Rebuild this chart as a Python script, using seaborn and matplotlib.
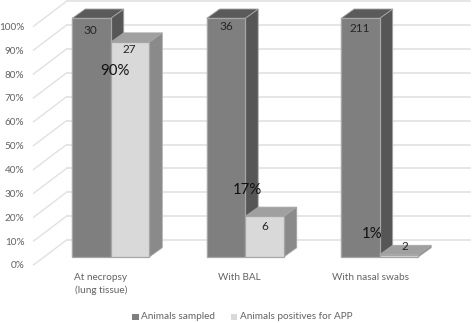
import pandas as pd
import matplotlib.pyplot as plt
from matplotlib.patches import Polygon, Rectangle
import seaborn as sns

groups = ["At necropsy\n(lung tissue)", "With BAL", "With nasal swabs"]
sampled_pct = [100, 100, 100]
positive_pct = [90, 17, 1]
sampled_n = [30, 36, 211]
positive_n = [27, 6, 2]
series = ["Animals sampled", "Animals positives for APP"]
ticks = list(range(0, 101, 10))

W, H = 472, 323
DX, DY = 13, 9.3  # bar depth in pixels

plt.rcParams['font.family'] = ['Lato', 'DejaVu Sans']
fig = plt.figure(figsize=(W / 100, H / 100), dpi=100)


def fx(x):
    return x / W


def fy(y):
    return 1 - y / H


# axes = the plane of the bar fronts
ax = fig.add_axes([fx(43.5), fy(257), (446.9 - 43.5) / W, (257 - 18.3) / H])
df = pd.DataFrame({
    "group": groups * 2,
    "series": [series[0]] * 3 + [series[1]] * 3,
    "pct": sampled_pct + positive_pct,
})
sns.barplot(data=df, x="group", y="pct", hue="series", ax=ax, width=0.573, legend=False,
            palette=["#7f7f7f", "#d9d9d9"], edgecolor="#a6a6a6", linewidth=0.9, saturation=1, zorder=3)
ax.set_xlim(-0.5, 2.5)
ax.set_ylim(0, 100)
ax.axis("off")

# back wall, side wall and y labels
step = (257 - 18.3) / 100
for t in ticks:
    back = 240 - step * t
    front = 265 - step * t
    fig.add_artist(plt.Line2D([fx(66.5), fx(470)], [fy(back), fy(back)], color="#e1e1e1", lw=1.2, zorder=0))
    fig.add_artist(plt.Line2D([fx(33.5), fx(66.5)], [fy(front), fy(back)], color="#e1e1e1", lw=1.0, zorder=0))
    fig.text(fx(24.5), fy(front + 1), f"{t}%", ha="right", va="center", fontsize=7.2, color="#636363")

# depth faces taken from the bars seaborn drew
side_cols = ["#565656", "#8a8a8a"]
top_cols = ["#5a5a5a", "#a0a0a0"]
bars = [p for p in ax.patches if isinstance(p, Rectangle) and p.get_height() > 0]
for i, p in enumerate(bars):
    s = 0 if i < 3 else 1
    x0, x1 = p.get_x(), p.get_x() + p.get_width()
    h = p.get_height()
    to_px = ax.transData.transform
    (a, b), (c, d) = to_px((x0, 0)), to_px((x1, h))
    inv = fig.transFigure.inverted().transform
    z = 1 if s == 0 else 5
    top = [(a, d), (c, d), (c + DX, d + DY), (a + DX, d + DY)]
    side = [(c, b), (c + DX, b + DY), (c + DX, d + DY), (c, d)]
    for pts, col in ((side, side_cols[s]), (top, top_cols[s])):
        fig.add_artist(Polygon(inv(pts), closed=True, transform=fig.transFigure, facecolor=col,
                               edgecolor="#a6a6a6", lw=0.6, zorder=z))
    # redraw the front above the side faces of the neighbour
    fig.add_artist(Polygon(inv([(a, b), (c, b), (c, d), (a, d)]), closed=True, transform=fig.transFigure,
                           facecolor=p.get_facecolor(), edgecolor="#a6a6a6", lw=0.9, zorder=z))

# value labels
n_pos = [(90, 30.5), (226, 27), (360, 28.5)]
m_pos = [(129.5, 49.5), (265, 227), (405, 246.5)]
pct_pos = [(115, 71), (247, 190), (372, 234)]
for v, (x, y) in zip(sampled_n, n_pos):
    fig.text(fx(x), fy(y), str(v), ha="center", va="center", fontsize=8.5, color="#262626", zorder=8)
for v, (x, y) in zip(positive_n, m_pos):
    fig.text(fx(x), fy(y), str(v), ha="center", va="center", fontsize=8.5, color="#262626", zorder=8)
for v, (x, y) in zip(positive_pct, pct_pos):
    fig.text(fx(x), fy(y), f"{v}%", ha="center", va="center", fontsize=10.8, color="#111111", zorder=8)

# category labels
for g, x in zip(groups, [101, 239, 370]):
    fig.text(fx(x), fy(273.5), g, ha="center", va="top", fontsize=7.2, color="#636363", linespacing=1.4)

# legend
for name, col, sq, tx in zip(series, ["#7f7f7f", "#d9d9d9"], [132.3, 231], [141, 240]):
    fig.add_artist(Rectangle((fx(sq), fy(320)), 6.5 / W, 6.5 / H, transform=fig.transFigure, facecolor=col, edgecolor="none"))
    fig.text(fx(tx), fy(316.5), name, ha="left", va="center", fontsize=7.2, color="#636363")

fig.savefig("out.png", dpi=100)
